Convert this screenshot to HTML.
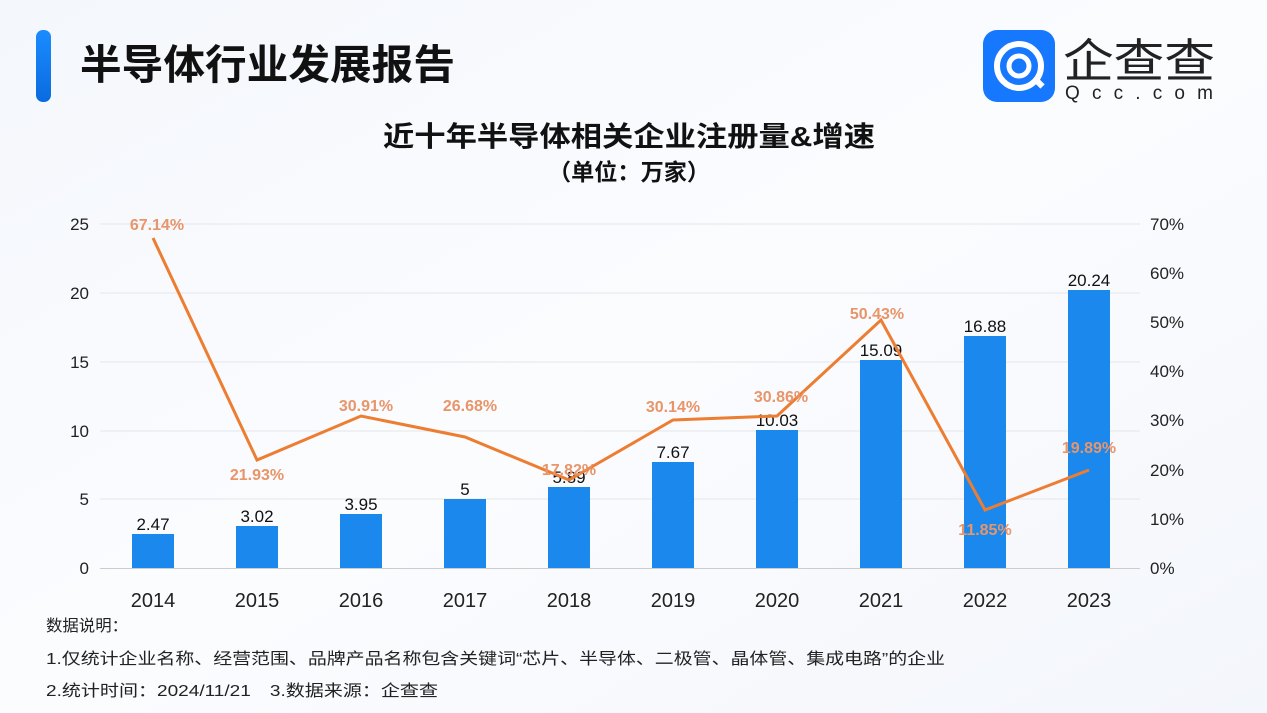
<!DOCTYPE html>
<html><head><meta charset="utf-8"><style>
body{margin:0;width:1267px;height:713px;overflow:hidden;background:#f8fafd;font-family:"Liberation Sans","Noto Sans CJK SC",sans-serif;}
</style></head><body>
<svg width="1267" height="713" xmlns="http://www.w3.org/2000/svg" style="position:absolute;left:0;top:0">
<defs>
<linearGradient id="bg" x1="0" y1="0" x2="1" y2="1"><stop offset="0" stop-color="#f4f7fc"/><stop offset="0.5" stop-color="#fbfcfe"/><stop offset="1" stop-color="#f3f6fb"/></linearGradient>
<linearGradient id="lb" x1="0" y1="0" x2="0" y2="1"><stop offset="0" stop-color="#1a8cff"/><stop offset="1" stop-color="#0a6be0"/></linearGradient>
</defs>
<rect width="1267" height="713" fill="url(#bg)"/>
<rect x="36" y="30" width="15" height="72" rx="7" fill="url(#lb)"/>
<text x="80" y="79" font-size="41" font-weight="bold" fill="#111" textLength="375" lengthAdjust="spacingAndGlyphs">半导体行业发展报告</text>
<rect x="983" y="30" width="72" height="72" rx="14" fill="#1677ff"/>
<circle cx="1019" cy="66" r="22" fill="none" stroke="#fff" stroke-width="6"/>
<circle cx="1019" cy="66" r="10" fill="none" stroke="#fff" stroke-width="5"/>
<rect x="1034" y="80" width="10" height="6" fill="#fff" transform="rotate(45 1039 83)"/>
<text x="1063" y="77" font-size="46" fill="#222" textLength="152" lengthAdjust="spacingAndGlyphs">企查查</text>
<text x="1065" y="99" font-size="19" fill="#222" textLength="148" lengthAdjust="spacing">Qcc.com</text>
<text x="383" y="146" font-size="28" font-weight="bold" fill="#111" textLength="492" lengthAdjust="spacingAndGlyphs">近十年半导体相关企业注册量&amp;增速</text>
<text x="548" y="180" font-size="23" font-weight="bold" fill="#111" textLength="162" lengthAdjust="spacingAndGlyphs">（单位：万家）</text>
<g stroke="#e3e6ea" stroke-width="1">
<line x1="100" y1="224" x2="1140" y2="224"/><line x1="100" y1="293" x2="1140" y2="293"/><line x1="100" y1="362" x2="1140" y2="362"/><line x1="100" y1="431" x2="1140" y2="431"/><line x1="100" y1="499" x2="1140" y2="499"/></g>
<line x1="100" y1="568.5" x2="1140" y2="568.5" stroke="#ccc"/>
<g font-size="17" fill="#222" text-anchor="end">
<text x="89" y="230">25</text><text x="89" y="299">20</text><text x="89" y="368">15</text><text x="89" y="437">10</text><text x="89" y="505">5</text><text x="89" y="574">0</text></g>
<g font-size="17" fill="#222">
<text x="1150" y="230">70%</text><text x="1150" y="279">60%</text><text x="1150" y="328">50%</text><text x="1150" y="377">40%</text><text x="1150" y="426">30%</text><text x="1150" y="476">20%</text><text x="1150" y="525">10%</text><text x="1150" y="574">0%</text></g>
<g fill="#1a88ec">
<rect x="132" y="534" width="42" height="34"/><rect x="236" y="526" width="42" height="42"/><rect x="340" y="514" width="42" height="54"/><rect x="444" y="499" width="42" height="69"/><rect x="548" y="487" width="42" height="81"/><rect x="652" y="462" width="42" height="106"/><rect x="756" y="430" width="42" height="138"/><rect x="860" y="360" width="42" height="208"/><rect x="964" y="336" width="42" height="232"/><rect x="1068" y="290" width="42" height="278"/></g>
<g font-size="17" fill="#111" text-anchor="middle">
<text x="153" y="530">2.47</text><text x="257" y="522">3.02</text><text x="361" y="510">3.95</text><text x="465" y="495">5</text><text x="569" y="483">5.89</text><text x="673" y="458">7.67</text><text x="777" y="426">10.03</text><text x="881" y="356">15.09</text><text x="985" y="332">16.88</text><text x="1089" y="286">20.24</text></g>
<polyline fill="none" stroke="#ed7d31" stroke-width="3" points="153,238 257,460 361,416 465,437 569,480 673,420 777,416 881,320 985,510 1089,470"/>
<g font-size="16" font-weight="bold" fill="#e8956a" text-anchor="middle">
<text x="157" y="230">67.14%</text><text x="257" y="480">21.93%</text><text x="366" y="411">30.91%</text><text x="470" y="411">26.68%</text><text x="569" y="475">17.82%</text><text x="673" y="412">30.14%</text><text x="781" y="402">30.86%</text><text x="877" y="319">50.43%</text><text x="985" y="535">11.85%</text><text x="1089" y="453">19.89%</text></g>
<g font-size="20" fill="#222" text-anchor="middle">
<text x="153" y="607">2014</text><text x="257" y="607">2015</text><text x="361" y="607">2016</text><text x="465" y="607">2017</text><text x="569" y="607">2018</text><text x="673" y="607">2019</text><text x="777" y="607">2020</text><text x="881" y="607">2021</text><text x="985" y="607">2022</text><text x="1089" y="607">2023</text></g>
<g font-size="16" fill="#222">
<text x="46" y="631" textLength="82" lengthAdjust="spacingAndGlyphs">数据说明：</text>
<text x="46" y="664" textLength="899" lengthAdjust="spacingAndGlyphs">1.仅统计企业名称、经营范围、品牌产品名称包含关键词“芯片、半导体、二极管、晶体管、集成电路”的企业</text>
<text x="46" y="696" textLength="392" lengthAdjust="spacingAndGlyphs">2.统计时间：2024/11/21　3.数据来源：企查查</text></g>
</svg>
</body></html>
